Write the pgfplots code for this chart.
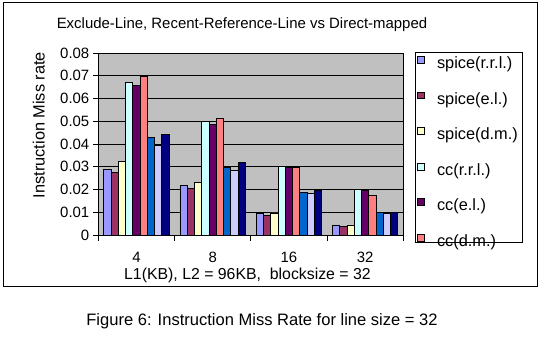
\documentclass[border=0pt]{standalone}
\usepackage{pgfplots}
\pgfplotsset{compat=1.18}
\usepackage{fontspec}
\setmainfont{Liberation Sans}
\definecolor{plotgray}{HTML}{C0C0C0}
\definecolor{cA}{HTML}{9999FF}
\definecolor{cB}{HTML}{993366}
\definecolor{cC}{HTML}{FFFFCC}
\definecolor{cD}{HTML}{CCFFFF}
\definecolor{cE}{HTML}{660066}
\definecolor{cF}{HTML}{FF8080}
\definecolor{cG}{HTML}{0066CC}
\definecolor{cH}{HTML}{CCCCFF}
\definecolor{cI}{HTML}{000080}
\newcommand{\chfont}{\fontsize{15}{18}\selectfont}
\begin{document}
\begin{tikzpicture}[x=1bp,y=1bp]
\path[use as bounding box] (0,0) rectangle (546,339);
\draw[line width=1bp] (3.3,52.3) rectangle (537.7,336.3);
\node[anchor=base, font=\fontsize{15}{18}\selectfont] at (242,311) {Exclude-Line, Recent-Reference-Line vs Direct-mapped};
\begin{axis}[
  at={(98.3bp,104bp)}, anchor=south west,
  scale only axis, width=305bp, height=182bp,
  xmin=-0.5, xmax=3.5, ymin=0, ymax=0.08,
  axis background/.style={fill=plotgray},
  ybar, bar width=0.0952,
  xtick={-0.5,0.5,1.5,2.5,3.5}, x tick label as interval,
  xticklabels={4,8,16,32},
  scaled y ticks=false,
  ytick={0,0.01,0.02,0.03,0.04,0.05,0.06,0.07,0.08},
  yticklabels={0,0.01,0.02,0.03,0.04,0.05,0.06,0.07,0.08},
  tick pos=left, tick align=outside, major tick length=5.5bp,
  ymajorgrids, grid style={black, line width=0.8bp},
  axis line style={black, line width=0.8bp},
  tick style={black, line width=0.8bp},
  every tick label/.append style={font=\chfont},
  xticklabel style={anchor=base, yshift=-21.5bp},
  xlabel={L1(KB), L2 = 96KB,\ \ blocksize = 32},
  xlabel style={at={(axis description cs:0.489,-0.247)}, anchor=base, font=\fontsize{15.9}{19}\selectfont},
  ylabel={Instruction Miss rate},
  ylabel style={at={(axis description cs:-0.1954,0.604)}, anchor=center, font=\fontsize{16.4}{19}\selectfont},
  legend style={draw=none, fill=none, at={(axis description cs:1.044,0.9835)}, anchor=north west,
    inner sep=0pt, row sep=19.7bp,
    nodes={inner sep=0pt, text height=11bp, text depth=3.5bp, font=\fontsize{16.4}{19}\selectfont}},
  legend cell align=left,
  legend image code/.code={\draw[#1,draw=black,line width=0.8bp] (0bp,1.5bp) rectangle (6.7bp,8.2bp); \path (19.3bp,0bp);},
]
\addplot[fill=cA, draw=black, line width=0.8bp, bar shift=-0.381] coordinates {(0,0.0289) (1,0.0218) (2,0.0095) (3,0.0044)};
\addplot[fill=cB, draw=black, line width=0.8bp, bar shift=-0.2857] coordinates {(0,0.0276) (1,0.0205) (2,0.0087) (3,0.0038)};
\addplot[fill=cC, draw=black, line width=0.8bp, bar shift=-0.1905] coordinates {(0,0.0324) (1,0.0232) (2,0.0097) (3,0.0044)};
\addplot[fill=cD, draw=black, line width=0.8bp, bar shift=-0.0952] coordinates {(0,0.0672) (1,0.0500) (2,0.0302) (3,0.0201)};
\addplot[fill=cE, draw=black, line width=0.8bp, bar shift=0] coordinates {(0,0.0658) (1,0.0487) (2,0.0295) (3,0.0194)};
\addplot[fill=cF, draw=black, line width=0.8bp, bar shift=0.0952] coordinates {(0,0.0697) (1,0.0513) (2,0.0298) (3,0.0172)};
\addplot[fill=cG, draw=black, line width=0.8bp, bar shift=0.1905] coordinates {(0,0.0430) (1,0.0298) (2,0.0188) (3,0.0098)};
\addplot[fill=cH, draw=black, line width=0.8bp, bar shift=0.2857] coordinates {(0,0.0394) (1,0.0284) (2,0.0183) (3,0.0095)};
\addplot[fill=cI, draw=black, line width=0.8bp, bar shift=0.381] coordinates {(0,0.0443) (1,0.0320) (2,0.0195) (3,0.0098)};
\legend{spice(r.r.l.),spice(e.l.),spice(d.m.),cc(r.r.l.),cc(e.l.),cc(d.m.)}
\end{axis}
\draw[line width=1bp] (415.3,96.3) rectangle (522.3,286.3);
\node[anchor=base, font=\fontsize{16.6}{20}\selectfont] at (262,13.5) {Figure 6: Instruction Miss Rate for line size = 32};
\end{tikzpicture}
\end{document}
